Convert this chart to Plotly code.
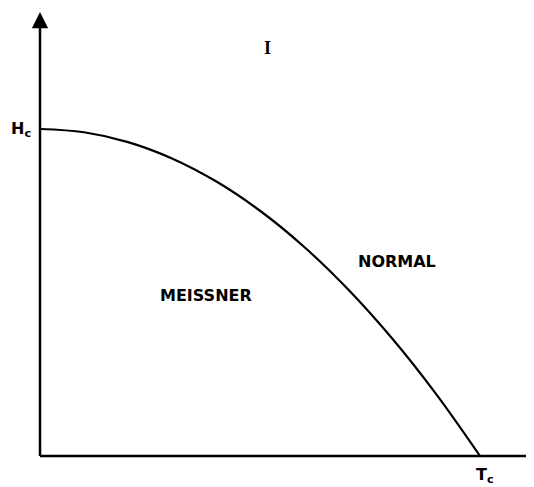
import plotly.graph_objects as go

# Critical field curve H_c(T) (T in units of Tc, H in units of Hc(0))
T_vals = [0.0, 0.10, 0.20, 0.30, 0.40, 0.50, 0.60, 0.70, 0.80, 0.90, 1.00]
H_vals = [1.0, 0.99, 0.96, 0.91, 0.84, 0.75, 0.64, 0.51, 0.36, 0.19, 0.0]

region_labels = ["I", "NORMAL", "MEISSNER"]
region_T = [0.518, 0.811, 0.377]
region_H = [1.248, 0.596, 0.492]

tick_labels = ["H<sub>c</sub>", "T<sub>c</sub>"]

x_end = 1.114   # end of the T axis line
y_tip = 1.358   # tip of the H axis arrow

fig = go.Figure()
fig.add_trace(go.Scatter(x=T_vals, y=H_vals, mode="lines", line=dict(color="black", width=2.2, shape="spline"),
                         hoverinfo="skip", showlegend=False))

# axes lines
fig.add_shape(type="line", x0=0, y0=0, x1=x_end, y1=0, line=dict(color="black", width=2.5))
fig.add_shape(type="line", x0=0, y0=0, x1=0, y1=y_tip - 0.03, line=dict(color="black", width=2.5))
fig.add_annotation(x=0, y=y_tip, ax=0, ay=y_tip - 0.05, xref="x", yref="y", axref="x", ayref="y",
                   text="", showarrow=True, arrowhead=2, arrowsize=1.3, arrowwidth=2.5, arrowcolor="black")

font = dict(family="DejaVu Sans", size=16, color="black")
fonts = [dict(family="Liberation Serif", size=18, color="black"), font, font]
for lab, tx, hy, f in zip(region_labels, region_T, region_H, fonts):
    fig.add_annotation(x=tx, y=hy, text="<b>%s</b>" % lab, showarrow=False, font=f)

fig.add_annotation(x=0, y=H_vals[0], text="<b>%s</b>" % tick_labels[0], showarrow=False,
                   xanchor="right", xshift=-7, font=font)
fig.add_annotation(x=T_vals[-1], y=-0.061, text="<b>%s</b>" % tick_labels[1], showarrow=False,
                   yanchor="middle", xshift=5, font=font)

fig.update_layout(width=526, height=479, margin=dict(l=0, r=0, t=0, b=0),
                  paper_bgcolor="white", plot_bgcolor="white",
                  xaxis=dict(range=[-32/440, 494/440], visible=False),
                  yaxis=dict(range=[-31/327, 448/327], visible=False))
fig.write_html("out.html")
